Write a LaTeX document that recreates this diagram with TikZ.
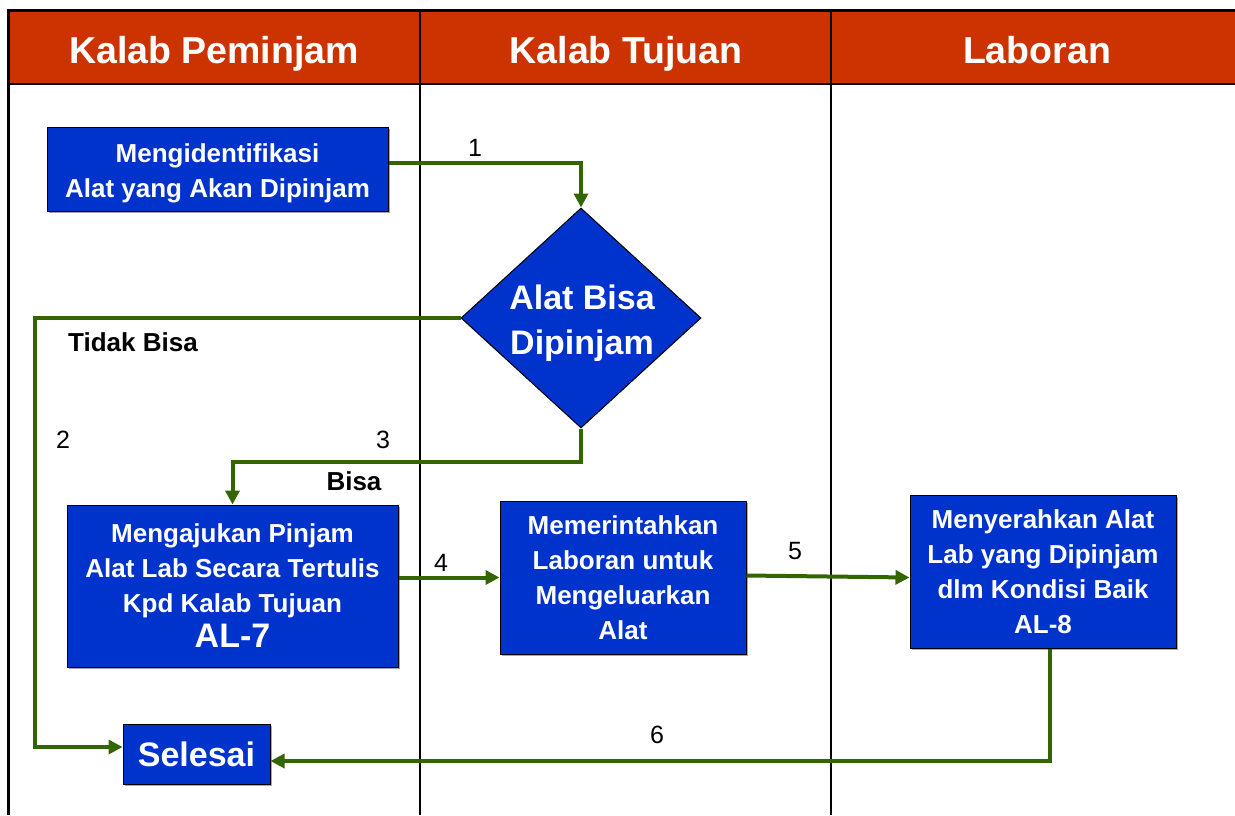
\documentclass[tikz,border=0pt]{standalone}
\usepackage{fontspec}
\setmainfont{Liberation Sans}
\usetikzlibrary{arrows.meta,shapes.geometric,shadows}
\definecolor{hdrred}{HTML}{CC3300}
\definecolor{boxblue}{HTML}{0033CC}
\definecolor{flowgreen}{HTML}{336600}
\tikzset{
  box/.style={draw=black, line width=1pt, fill=boxblue, text=white, inner sep=0pt,
    align=center, font=\fontsize{26}{35}\selectfont\bfseries,
    drop shadow={shadow xshift=1.5pt, shadow yshift=-1.5pt, fill=black!35, opacity=1}},
  boxtext/.style={text=white, inner sep=0pt, align=center, font=\fontsize{26}{35}\selectfont\bfseries},
  dia/.style={diamond, draw=black, line width=1pt, fill=boxblue, inner sep=0pt},
  diatext/.style={text=white, align=center, inner sep=0pt, font=\fontsize{34}{45}\selectfont\bfseries},
  hdr/.style={text=white, anchor=base, font=\fontsize{37.5}{44}\selectfont\bfseries},
  flow/.style={draw=flowgreen, line width=4pt, -{Triangle[length=14pt,width=14pt]}},
  num/.style={font=\fontsize{25}{30}\selectfont},
  lbl/.style={font=\fontsize{26}{30}\selectfont\bfseries}
}
\begin{document}
\begin{tikzpicture}[x=1pt,y=-1pt]
\useasboundingbox (0,0) rectangle (1235,815);
% header and frame
\fill[hdrred] (8,12) rectangle (1235,84);
\draw[line width=3pt] (8,10.5) -- (1235,10.5);
\draw[line width=2.5pt] (8,84) -- (1235,84);
\draw[line width=3pt] (8.5,9) -- (8.5,815);
\draw[line width=1.5pt] (420,10) -- (420,815);
\draw[line width=1.5pt] (831,10) -- (831,815);
\node[hdr] (h1) at (214,63) {Kalab Peminjam};
\node[hdr] (h2) at (626,63) {Kalab Tujuan};
\node[hdr] (h3) at (1037,63) {Laboran};
% nodes
\node[box, minimum width=341pt, minimum height=84pt] (b1) at (217.5,169) {};
\node[boxtext] (b1t) at (217.5,173) {Mengidentifikasi\\Alat yang Akan Dipinjam};
\node[dia, minimum width=240pt, minimum height=220pt] (dia) at (581,318) {};
\node[diatext] (diat) at (582,323) {Alat Bisa\\Dipinjam};
\node[box, minimum width=331pt, minimum height=162pt] (b2) at (232.5,586) {Mengajukan Pinjam\\Alat Lab Secara Tertulis\\Kpd Kalab Tujuan\\{\fontsize{34}{38}\selectfont AL-7}};
\node[box, minimum width=246pt, minimum height=153pt] (b3) at (623,577.5) {Memerintahkan\\Laboran untuk\\Mengeluarkan\\Alat};
\node[box, minimum width=266pt, minimum height=153pt] (b4) at (1043,571.5) {Menyerahkan Alat\\Lab yang Dipinjam\\dlm Kondisi Baik\\AL-8};
\node[box, minimum width=147pt, minimum height=60pt, font=\fontsize{34}{40}\selectfont\bfseries] (sel) at (196.5,754) {Selesai};
% coordinates
\coordinate (c2) at (35,318);
\coordinate (c3) at (581,462);
% connectors
\draw[flow] ([yshift=6pt]b1.east) -| (dia.north);
\draw[flow] (dia.west) -- (c2) |- ([yshift=7pt]sel.west);
\draw[flow] (dia.south) -- (c3) -| (b2.north);
\draw[flow] (b2.east |- b3.west) -- (b3.west);
\draw[flow] ([yshift=2pt]b3.east) -- ([yshift=-6pt]b4.west);
\draw[flow] ([xshift=7pt]b4.south) |- ([yshift=-7pt]sel.east);
% labels
\node[num] (n1) at (475,148) {1};
\node[num] (n2) at (63,440) {2};
\node[num] (n3) at (383,440) {3};
\node[num] (n4) at (441,563) {4};
\node[num] (n5) at (795,551) {5};
\node[num] (n6) at (657,735) {6};
\node[lbl] (tb) at (133,342) {Tidak Bisa};
\node[lbl] (bs) at (354,481) {Bisa};
\end{tikzpicture}
\end{document}
